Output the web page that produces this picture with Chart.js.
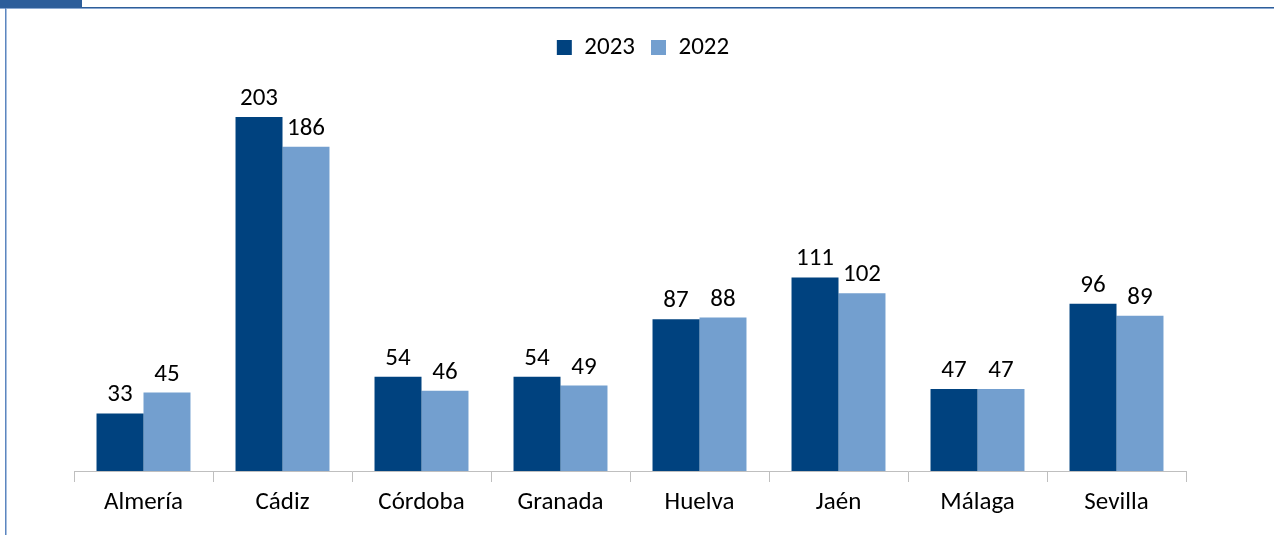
<!DOCTYPE html>
<html lang="es">
<head>
<meta charset="utf-8">
<title>Provincias 2023 / 2022</title>
<script src="https://cdn.jsdelivr.net/npm/chart.js@4/dist/chart.umd.min.js"></script>
<style>
  html, body { margin: 0; padding: 0; background: #ffffff; }
  #wrap { position: relative; width: 1274px; height: 535px; }
</style>
</head>
<body>
<div id="wrap"><canvas id="chart" width="1274" height="535"></canvas></div>
<script>
// Provinces and yearly values
const provincias = ['Almería', 'Cádiz', 'Córdoba', 'Granada', 'Huelva', 'Jaén', 'Málaga', 'Sevilla'];
const valores2023 = [33, 203, 54, 54, 87, 111, 47, 96];
const valores2022 = [45, 186, 46, 49, 88, 102, 47, 89];
const etiquetasSeries = ['2023', '2022'];

const FONT = "Carlito, Calibri, Lato, 'Open Sans', sans-serif";
const FONT_SIZE = 25;
const COLOR_2023 = '#00427f';
const COLOR_2022 = '#739fcf';

// Frame: dark tab at top-left, rule along the top, thin rule down the left side
const framePlugin = {
  id: 'frame',
  beforeDraw(chart) {
    const ctx = chart.ctx;
    ctx.save();
    ctx.fillStyle = '#ffffff';
    ctx.fillRect(0, 0, chart.width, chart.height);
    ctx.fillStyle = '#2c5d9a';
    ctx.fillRect(0, 0, 82, 7);
    ctx.fillStyle = '#2e5e99';
    ctx.fillRect(0, 7, chart.width, 1);
    ctx.fillStyle = '#8aa8d2';
    ctx.fillRect(0, 8, chart.width, 1);
    ctx.fillStyle = '#5c86bf';
    ctx.fillRect(5, 8, 1, chart.height - 8);
    ctx.fillStyle = '#a9c0e0';
    ctx.fillRect(6, 9, 1, chart.height - 9);
    ctx.restore();
  }
};

// Centre the legend on the whole canvas rather than on the plot area
const legendShift = {
  id: 'legendShift',
  afterLayout(chart) {
    const lg = chart.legend;
    if (!lg) return;
    const dx = chart.width / 2 - (lg.left + lg.right) / 2 + 6;
    lg.left += dx;
    lg.right += dx;
  }
};

// Value labels above each bar
const valueLabels = {
  id: 'valueLabels',
  afterDatasetsDraw(chart) {
    const ctx = chart.ctx;
    ctx.save();
    ctx.font = FONT_SIZE + 'px ' + FONT;
    ctx.fillStyle = '#000000';
    ctx.textAlign = 'center';
    ctx.textBaseline = 'alphabetic';
    chart.data.datasets.forEach((ds, i) => {
      chart.getDatasetMeta(i).data.forEach((bar, j) => {
        ctx.fillText(String(ds.data[j]), bar.x, bar.y - 12);
      });
    });
    ctx.restore();
  }
};

new Chart(document.getElementById('chart'), {
  type: 'bar',
  data: {
    labels: provincias,
    datasets: [
      { label: etiquetasSeries[0], data: valores2023, backgroundColor: COLOR_2023 },
      { label: etiquetasSeries[1], data: valores2022, backgroundColor: COLOR_2022 }
    ]
  },
  options: {
    responsive: false,
    animation: false,
    devicePixelRatio: 1,
    layout: { padding: { top: 19, left: 74, right: 88, bottom: 0 } },
    datasets: {
      bar: { categoryPercentage: 0.676, barPercentage: 1.0, borderWidth: 0 }
    },
    plugins: {
      legend: {
        display: true,
        position: 'top',
        align: 'center',
        labels: {
          boxWidth: 15,
          boxHeight: 15,
          padding: 16,
          color: '#000000',
          font: { family: FONT, size: FONT_SIZE }
        }
      },
      tooltip: { enabled: false }
    },
    scales: {
      x: {
        grid: {
          offset: true,
          drawOnChartArea: false,
          drawTicks: true,
          tickLength: 11,
          color: '#bfbfbf',
          lineWidth: 1
        },
        border: { display: true, color: '#bfbfbf', width: 1 },
        ticks: {
          color: '#000000',
          padding: 6,
          maxRotation: 0,
          font: { family: FONT, size: FONT_SIZE }
        },
        afterFit(scale) { scale.height = 64; }
      },
      y: {
        display: false,
        min: 0,
        max: 230
      }
    }
  },
  plugins: [framePlugin, legendShift, valueLabels]
});
</script>
</body>
</html>
